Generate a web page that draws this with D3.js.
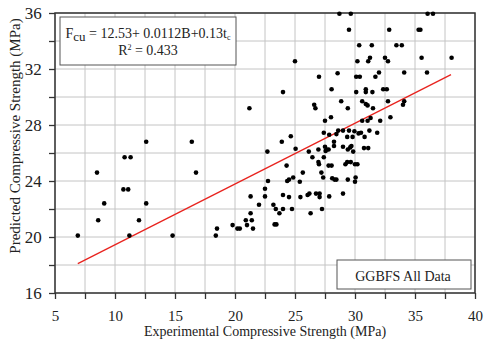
<!DOCTYPE html>
<html><head><meta charset="utf-8">
<script src="https://cdn.jsdelivr.net/npm/d3@7"></script>
<style>
html,body{margin:0;padding:0;background:#fff;}
svg{display:block;font-family:"Liberation Serif","Times New Roman",serif;}
</style></head>
<body>
<svg id="chart" width="486" height="342"></svg>
<script>
// Experimental compressive strength (MPa)
const expStrength = [
 6.9,8.5,8.6,9.1,10.7,11.1,10.8,11.3,11.2,12.0,12.6,12.6,14.8,16.4,16.75,
 18.4,18.5,19.8,20.2,20.4,20.9,21.4,21.0,21.5,21.3,22.0,21.3,22.5,23.2,23.4,
 23.7,24.0,23.3,23.45,24.0,24.5,24.75,25.45,26.05,26.2,26.3,26.75,27.05,27.05,27.25,
 27.85,29.0,22.5,22.75,24.35,24.5,24.85,25.4,25.65,27.2,27.35,28.1,28.3,28.45,29.4,
 30.05,30.0,22.7,24.3,26.15,26.45,26.95,26.95,27.0,27.4,27.5,27.55,27.65,27.8,27.8,
 28.05,28.25,28.25,29.0,29.4,29.6,29.7,29.85,30.75,31.1,29.2,29.35,29.65,30.0,30.2,
 28.6,29.0,29.5,29.95,30.3,30.5,31.2,31.85,28.45,29.35,29.8,30.8,27.4,27.85,23.9,
 24.65,25.05,28.0,27.5,29.4,30.6,31.05,31.3,32.1,32.95,31.5,34.0,21.2,26.6,26.7,
 28.85,30.6,30.9,31.05,32.75,34.1,28.05,24.0,30.1,30.9,30.9,31.45,32.35,32.65,27.0,
 28.55,30.1,30.4,31.7,32.0,34.1,36.0,25.0,30.2,31.1,31.25,32.5,32.75,35.55,38.05,
 30.35,31.4,33.45,33.9,29.5,32.85,35.3,35.45,28.7,29.65,36.05,36.5
];
// Predicted compressive strength (MPa)
const predStrength = [
 20.1,24.6,21.2,22.4,23.4,23.4,25.7,25.7,20.1,21.2,26.8,22.4,20.1,26.8,24.6,
 20.1,20.6,20.85,20.6,20.6,21.2,21.2,20.85,20.6,21.7,22.3,22.9,22.9,22.3,22.0,
 21.7,22.0,20.9,20.9,23.0,22.85,22.0,22.85,23.0,23.1,21.7,23.1,23.1,22.85,22.0,
 22.9,23.1,23.45,24.0,24.0,24.1,24.25,23.95,24.6,24.6,24.25,24.2,24.1,24.1,24.1,
 24.25,23.95,26.1,25.1,26.1,25.7,26.25,25.35,25.2,25.7,26.45,26.15,26.25,26.25,25.1,
 25.1,26.8,26.5,26.45,26.25,26.4,26.5,26.1,26.35,26.35,25.2,25.35,25.35,25.2,25.2,
 27.6,27.6,27.6,27.55,27.4,27.45,27.6,27.45,27.35,27.15,27.15,27.15,27.45,27.3,26.8,
 27.2,26.3,28.55,28.3,29.2,28.3,28.3,28.5,28.3,28.55,29.2,29.45,29.2,29.45,29.2,
 29.7,29.7,29.5,29.4,29.7,29.7,30.55,30.35,30.35,30.55,30.35,30.35,30.55,30.55,31.45,
 31.7,31.45,31.45,31.45,31.75,31.75,31.75,32.55,32.55,32.55,32.8,32.8,32.55,32.8,32.8,
 33.7,33.7,33.7,33.7,34.8,34.8,34.8,34.8,35.95,35.95,35.95,35.95
];
// Regression line end points
const fitX = [6.9, 38.0];
const fitY = [18.1, 31.6];
const xTicks = [5,7.5,10,12.5,15,17.5,20,22.5,25,27.5,30,32.5,35,37.5,40];
const yTicks = [16,18,20,22,24,26,28,30,32,34,36];
const xLabels = [5,10,15,20,25,30,35,40];
const yLabels = [16,20,24,28,32,36];
const xTitle = "Experimental Compressive Strength (MPa)";
const yTitle = "Predicted Compressive Strength (MPa)";
const legendText = "GGBFS All Data";

const svg = d3.select("#chart");
const L = 55, R = 475, T = 13, B = 293;
const x = d3.scaleLinear().domain([5,40]).range([L,R]);
const y = d3.scaleLinear().domain([16,36]).range([B,T]);

// grid
const g = svg.append("g");
g.selectAll(".vx").data(xTicks).join("line")
  .attr("x1",d=>x(d)).attr("x2",d=>x(d)).attr("y1",T).attr("y2",B)
  .attr("stroke","#c4c4c4").attr("stroke-width",1);
g.selectAll(".hy").data(yTicks).join("line")
  .attr("y1",d=>y(d)).attr("y2",d=>y(d)).attr("x1",L).attr("x2",R)
  .attr("stroke","#c4c4c4").attr("stroke-width",1);

// axes
const xAxis = d3.axisBottom(x).tickValues(xTicks).tickSize(6).tickSizeOuter(0)
  .tickFormat(d => xLabels.includes(d) ? d : "");
const yAxis = d3.axisLeft(y).tickValues(yTicks).tickSize(6).tickSizeOuter(0)
  .tickFormat(d => yLabels.includes(d) ? d : "");
const gx = svg.append("g").attr("transform",`translate(0,${B})`).call(xAxis);
gx.select(".domain").remove();
gx.selectAll("line").attr("stroke","#333").attr("stroke-width",1.3);
gx.selectAll("text").attr("font-family","Liberation Serif").attr("font-size",15).attr("fill","#222").attr("dy","1.25em");
const gy = svg.append("g").attr("transform",`translate(${L},0)`).call(yAxis);
gy.select(".domain").remove();
gy.selectAll("line").attr("stroke","#333").attr("stroke-width",1.3);
gy.selectAll("text").attr("font-family","Liberation Serif").attr("font-size",17).attr("fill","#222").attr("dx","-0.25em");

// frame
svg.append("rect").attr("x",L).attr("y",T).attr("width",R-L).attr("height",B-T)
  .attr("fill","none").attr("stroke","#333").attr("stroke-width",1.5);

// equation box
svg.append("rect").attr("x",60).attr("y",17).attr("width",176).attr("height",48)
  .attr("fill","#fff").attr("stroke","#555").attr("stroke-width",1);
const eq = svg.append("text").attr("x",148).attr("y",38).attr("text-anchor","middle")
  .attr("font-size",14).attr("fill","#222");
eq.append("tspan").text("F");
eq.append("tspan").attr("dy",3).attr("font-size",13).text("cu");
eq.append("tspan").attr("dy",-3).text(" = 12.53+ 0.0112B+0.13t");
eq.append("tspan").attr("dy",2).attr("font-size",8).text("c");
const r2 = svg.append("text").attr("x",148).attr("y",55).attr("text-anchor","middle")
  .attr("font-size",14).attr("fill","#222");
r2.append("tspan").text("R");
r2.append("tspan").attr("dy",-5).attr("font-size",8).text("2");
r2.append("tspan").attr("dy",5).text(" = 0.433");

// legend box
svg.append("rect").attr("x",337).attr("y",260).attr("width",134).attr("height",29)
  .attr("fill","#fff").attr("stroke","#555").attr("stroke-width",1);
svg.append("text").attr("x",403).attr("y",281).attr("text-anchor","middle")
  .attr("font-size",14).attr("fill","#222").text(legendText);

// regression line
svg.append("line").attr("x1",x(fitX[0])).attr("y1",y(fitY[0]))
  .attr("x2",x(fitX[1])).attr("y2",y(fitY[1]))
  .attr("stroke","#e8231e").attr("stroke-width",1.3);

// points
const pts = expStrength.map((v,i)=>[v,predStrength[i]]);
svg.append("g").selectAll("circle").data(pts).join("circle")
  .attr("cx",d=>x(d[0])).attr("cy",d=>y(d[1])).attr("r",2.3).attr("fill","#000");

// titles
svg.append("text").attr("x",(L+R)/2).attr("y",336).attr("text-anchor","middle")
  .attr("font-size",14).attr("fill","#222").text(xTitle);
svg.append("text").attr("transform","translate(20,136) rotate(-90)").attr("text-anchor","middle")
  .attr("font-size",15).attr("fill","#222").text(yTitle);
</script>
</body></html>
